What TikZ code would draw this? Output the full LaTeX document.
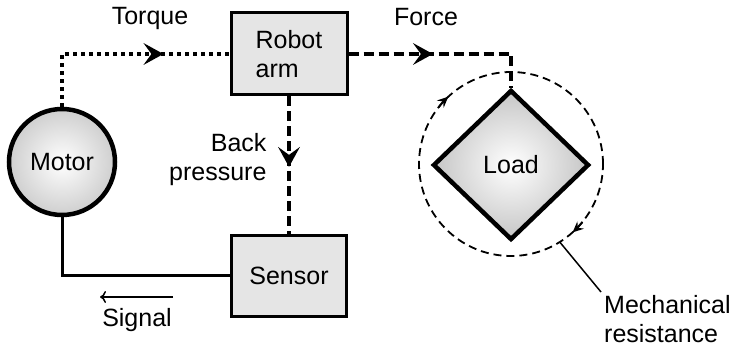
\documentclass[tikz,border=0pt]{standalone}
\usepackage{fontspec}
\setmainfont{Liberation Sans}
\usetikzlibrary{shapes.geometric,arrows.meta,decorations.markings}

\begin{document}
\begin{tikzpicture}[x=1pt, y=1pt,
    font=\fontsize{25}{29}\selectfont,
    block/.style={rectangle, draw, line width=3pt, fill=gray!20, minimum width=116pt, minimum height=82pt},
    motorbox/.style={circle, draw, line width=4.5pt, shading=radial, inner color=white, outer color=gray!38, minimum size=106pt, inner sep=0pt},
    loadbox/.style={diamond, draw, line width=4.5pt, shading=radial, inner color=white, outer color=gray!45, minimum width=156pt, minimum height=150pt, inner sep=0pt},
    ring/.style={circle, draw, line width=1.8pt, dash pattern=on 8pt off 5pt, minimum size=184pt, inner sep=0pt, outer sep=0pt},
    torque/.style={line width=4pt, dash pattern=on 4pt off 4pt},
    force/.style={line width=4pt, dash pattern=on 10pt off 5pt},
    wire/.style={line width=3pt},
    thinline/.style={line width=1.5pt},
    midarrow/.style={postaction={decorate, decoration={markings, mark=at position #1 with {\arrow{Stealth[length=20pt, width=22pt, inset=8pt, line width=0pt]}}}}},
    ringarrow/.style={line width=1.8pt, -{Stealth[length=11pt, width=10pt, inset=4pt, line width=0pt]}}
]
\useasboundingbox (0,0) rectangle (754,-352);

% Blocks
\node[block, align=left] (arm) at (289,-54) {Robot\\arm};
\node[block, minimum width=115pt, minimum height=80pt] (sensor) at (289,-276) {Sensor};
\node[motorbox] (motor) at (62,-162) {Motor};
\node[ring] (resist) at (511,-164) {};
\node[loadbox] (load) at (511,-165) {Load};

% Labels
\node (torquelbl) at (150,-18) {Torque};
\node (forcelbl) at (426,-17) {Force};
\node[anchor=east, align=right] (backlbl) at (270,-160) {Back\\pressure};
\node (signallbl) at (137,-320) {Signal};
\node[anchor=north west, align=left, inner sep=3pt] (mech) at (601,-292) {Mechanical\\resistance};

% Connections
\draw[torque, midarrow=0.70] (motor) |- (arm);
\draw[force, midarrow=0.43] (arm) -| (load);
\draw[force, midarrow=0.51] (arm) -- (sensor);
\draw[wire] (motor) |- (sensor);

% Signal direction
\coordinate (sigstart) at (173,-297);
\draw[thinline, -{To[length=6pt, width=12pt]}] (sigstart) -- ++(-73,0);

% Resistance ring arrows and leader
\draw[ringarrow] (resist.142) arc[start angle=142, end angle=133, radius=92pt];
\draw[ringarrow] (resist.-39) arc[start angle=-39, end angle=-48, radius=92pt];
\draw[thinline] (resist.-58) -- (mech.north west);
\end{tikzpicture}
\end{document}
